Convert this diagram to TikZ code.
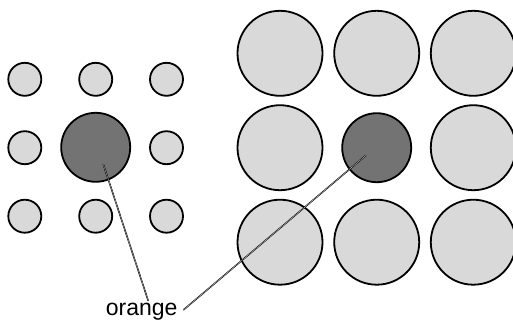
\documentclass[tikz,border=0pt]{standalone}
\usepackage{fontspec}
\setmainfont{Liberation Sans}
\definecolor{disc}{HTML}{D9D9D9}
\definecolor{target}{HTML}{737373}
\begin{document}
\begin{tikzpicture}[x=1pt,y=-1pt,
  ring/.style={circle,draw=black,line width=1.8pt,fill=disc,inner sep=0pt},
  core/.style={circle,draw=black,line width=1.8pt,fill=target,inner sep=0pt,minimum size=69pt},
  smalldisc/.style={ring,minimum size=33pt},
  bigdisc/.style={ring,minimum size=85pt},
  pointer/.style={draw=black,line width=0.6pt,double=white,double distance=0.25pt}]
\useasboundingbox (0,0) rectangle (513,327);
\clip (0,0) rectangle (513,327);
% left group: small surrounding discs
\foreach \i/\x in {1/24.8,2/95.7,3/166.5}
  \foreach \j/\y in {1/79.3,2/147.7,3/216.2}
    {\ifnum\i=2 \ifnum\j=2 \else \node[smalldisc] (s\i\j) at (\x,\y) {};\fi
     \else \node[smalldisc] (s\i\j) at (\x,\y) {};\fi}
\node[core] (lc) at (95.7,147.3) {};
% right group: large surrounding discs
\foreach \i/\x in {1/280,2/376.7,3/473.3}
  \foreach \j/\y in {1/53.3,2/147.7,3/242.2}
    {\ifnum\i=2 \ifnum\j=2 \else \node[bigdisc] (b\i\j) at (\x,\y) {};\fi
     \else \node[bigdisc] (b\i\j) at (\x,\y) {};\fi}
\node[core] (rc) at (376.7,147.7) {};
% label and its pointers
\node[font=\fontsize{23}{26}\selectfont,inner sep=0pt] (lab) at (141.7,312) {orange};
\coordinate (lp) at (103.3,164.3);
\coordinate (rp) at (366,155.3);
\coordinate (la) at (148.3,301);
\coordinate (ra) at (183.3,310);
\draw[pointer] (la) -- (lp);
\draw[pointer] (ra) -- (rp);
\end{tikzpicture}
\end{document}
